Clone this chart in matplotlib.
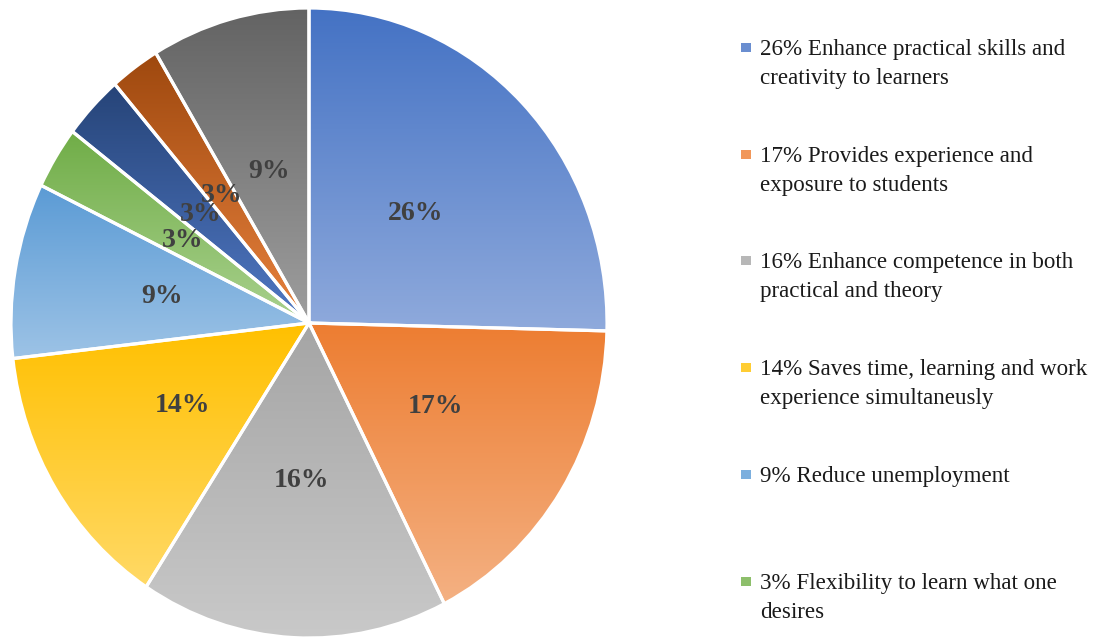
import matplotlib
matplotlib.use("Agg")
import matplotlib.pyplot as plt
import numpy as np
from matplotlib.colors import LinearSegmentedColormap, to_rgb
from matplotlib.patches import Rectangle

shares = [25.4, 17.1, 16.7, 14.0, 9.0, 3.2, 3.3, 2.7, 8.6]
# etichette come stampate sul grafico
pct_labels = ["26%", "17%", "16%", "14%", "9%", "3%", "3%", "3%", "9%"]
# colore in alto -> colore in basso del gradiente di ogni fetta
top_colors = ["#4472C4", "#ED7D31", "#A5A5A5", "#FFC000", "#5B9BD5",
              "#70AD47", "#264478", "#9E480E", "#636363"]
bottom_colors = ["#8FAADC", "#F4B183", "#C9C9C9", "#FFD966", "#9DC3E6",
                 "#A9D18E", "#5078C4", "#E8823E", "#9E9E9E"]
# la legenda originale e' tagliata: solo le prime 6 voci sono visibili
legend_labels = [
    "26% Enhance practical skills and\ncreativity to learners",
    "17% Provides experience and\nexposure to students",
    "16% Enhance competence in both\npractical and theory",
    "14% Saves time, learning and work\nexperience simultaneusly",
    "9% Reduce unemployment",
    "3% Flexibility to learn what one\ndesires",
]

W, H = 1109, 639
fig = plt.figure(figsize=(W / 100, H / 100), dpi=100)
fig.patch.set_facecolor("white")

# torta leggermente schiacciata come nell'originale (298 x 315 px)
ax = fig.add_axes([11 / W, 1 / H, 596 / W, 630 / H])
wedges, texts = ax.pie(
    shares, startangle=90, counterclock=False, radius=1.0,
    wedgeprops=dict(edgecolor="white", linewidth=2.3),
)
ax.set_aspect("auto")
ax.axis("off")

grad = np.linspace(0, 1, 256)[:, None]
for w, c1, c2, lab in zip(wedges, top_colors, bottom_colors, pct_labels):
    bb = w.get_path().get_extents(w.get_patch_transform())
    cmap = LinearSegmentedColormap.from_list("g", [c1, c2])
    im = ax.imshow(grad, cmap=cmap, aspect="auto", origin="upper",
                   extent=[bb.x0, bb.x1, bb.y0, bb.y1], zorder=0.5,
                   interpolation="bilinear")
    im.set_clip_path(w)
    w.set_facecolor("none")
    w.set_zorder(1)
    mid = np.deg2rad((w.theta1 + w.theta2) / 2)
    ax.text(0.5 * np.cos(mid), 0.5 * np.sin(mid), lab, ha="center", va="center",
            family="Liberation Serif", fontsize=20, fontweight="bold",
            color="#404040", zorder=3)
ax.set_xlim(-1, 1)
ax.set_ylim(-1, 1)

# legenda manuale
baselines = [55, 162, 268, 375, 482, 589]
line_gap = 29
for lab, base, c1, c2 in zip(legend_labels, baselines, top_colors, bottom_colors):
    sq = 0.5 * (np.array(to_rgb(c1)) + np.array(to_rgb(c2)))
    fig.patches.append(Rectangle((741 / W, 1 - (base - 3) / H), 10 / W, 9 / H,
                                 transform=fig.transFigure, facecolor=sq,
                                 edgecolor="none"))
    for k, line in enumerate(lab.split("\n")):
        fig.text(760 / W, 1 - (base + k * line_gap) / H, line,
                 family="Liberation Serif", fontsize=16.6, color="#1a1a1a",
                 va="baseline", ha="left")

fig.savefig("out.png", dpi=100, facecolor="white")
